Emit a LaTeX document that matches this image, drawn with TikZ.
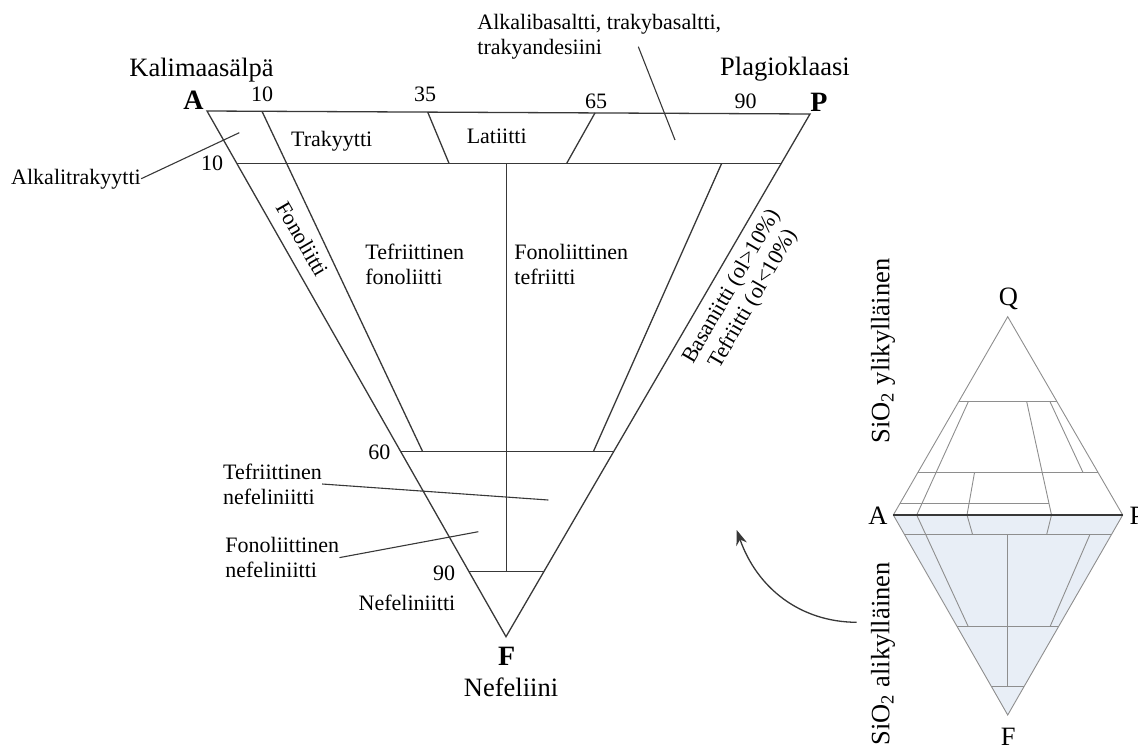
\documentclass[tikz,border=0pt]{standalone}
\usepackage{fontspec}
\setmainfont{Liberation Serif}
\usetikzlibrary{arrows.meta}
\definecolor{qapfline}{HTML}{383838}
\definecolor{diamgray}{HTML}{8E8E8E}
\definecolor{undersat}{HTML}{E8EEF6}

\tikzset{
  fieldlbl/.style={font=\fontsize{11}{12.5}\selectfont, inner sep=0pt},
  endlbl/.style={font=\fontsize{13.25}{15}\selectfont, inner sep=0pt},
  cornerlbl/.style={font=\fontsize{14}{16}\selectfont\bfseries, inner sep=0pt},
  mainline/.style={draw=qapfline, line width=0.65pt},
  minorline/.style={draw=diamgray, line width=0.45pt},
  leader/.style={draw=qapfline, line width=0.55pt}
}

\begin{document}
\begin{tikzpicture}[x=0.5pt, y=-0.5pt]
  \useasboundingbox (0,0) rectangle (1138,744);

  % main triangle A-P-F
  \coordinate (A) at (207,111);
  \coordinate (P) at (810,114);
  \coordinate (F) at (506,636.7);
  \draw[mainline] (A) -- (P) -- (F) -- cycle;
  \draw[mainline] (236.7,163.3) -- (781.3,163.3);
  \draw[mainline] (400.8,451.7) -- (613.6,451.7);
  \draw[mainline] (469.0,571.7) -- (543.8,571.7);
  \draw[mainline] (262,111.3) -- (422.7,451.7);
  \draw[mainline] (427.7,112.1) -- (449,163.3);
  \draw[mainline] (595,112.9) -- (566.7,163.3);
  \draw[mainline] (721.7,163.3) -- (593.3,451.7);
  \draw[mainline] (506.5,163.3) -- (506.5,571.7);

  % corners
  \node[endlbl, anchor=base] (kali) at (201.5,76) {Kalimaasälpä};
  \node[endlbl, anchor=base] (plag) at (785,75) {Plagioklaasi};
  \node[cornerlbl, anchor=base] (Albl) at (193.5,109.5) {A};
  \node[cornerlbl, anchor=base] (Plbl) at (819,111.7) {P};
  \node[cornerlbl, anchor=base] (Flbl) at (506.7,665) {F};
  \node[endlbl, anchor=base] (nefel) at (511,696.7) {Nefeliini};

  % scale values
  \node[fieldlbl, anchor=base] (top10) at (262,101.7) {10};
  \node[fieldlbl, anchor=base] (top35) at (425,101.7) {35};
  \node[fieldlbl, anchor=base] (top65) at (596,108.3) {65};
  \node[fieldlbl, anchor=base] (top90) at (745.5,108.3) {90};
  \node[fieldlbl, anchor=base] (side10) at (212,170) {10};
  \node[fieldlbl, anchor=base] (side60) at (379.3,459) {60};
  \node[fieldlbl, anchor=base] (side90) at (444,580) {90};

  % fields
  \node[fieldlbl, anchor=base] (trak) at (331.7,146.7) {Trakyytti};
  \node[fieldlbl, anchor=base] (lat) at (496.7,143.3) {Latiitti};
  \node[fieldlbl, rotate=-60] (fono) at (302.5,239) {Fonoliitti};
  \node[fieldlbl, align=left, anchor=west] (tefono) at (365,264) {Tefriittinen\\fonoliitti};
  \node[fieldlbl, align=left, anchor=west] (fontef) at (514,264) {Fonoliittinen\\tefriitti};
  \node[fieldlbl, rotate=60, align=center] (basan) at (743,293)
    {Basaniitti (ol>10\%)\\Tefriitti (ol<10\%)};
  \node[fieldlbl, anchor=base] (nefnii) at (407,610.7) {Nefeliniitti};

  % fields with leaders
  \node[fieldlbl, anchor=base] (alktr) at (76,184) {Alkalitrakyytti};
  \coordinate (alktrin) at (239.3,132.7);
  \draw[leader] (alktr.east) -- (alktrin);
  \node[fieldlbl, align=left, anchor=west] (albas) at (477,37)
    {Alkalibasaltti, trakybasaltti,\\trakyandesiini};
  \coordinate (albasout) at (638.3,46.7);
  \coordinate (albasin) at (675,140);
  \draw[leader] (albasout) -- (albasin);
  \node[fieldlbl, align=left, anchor=west] (tefnef) at (222.7,484) {Tefriittinen\\nefeliniitti};
  \coordinate (tefnefin) at (548.3,500);
  \draw[leader] (tefnef.east) -- (tefnefin);
  \node[fieldlbl, align=left, anchor=west] (fonnef) at (225,557.6) {Fonoliittinen\\nefeliniitti};
  \coordinate (fonnefin) at (478.3,531.7);
  \draw[leader] (fonnef.east) -- (fonnefin);

  % small QAPF diamond
  \coordinate (Q) at (1007.7,316.7);
  \coordinate (sA) at (893.3,515);
  \coordinate (sP) at (1122.7,515);
  \coordinate (sF) at (1007.7,715);
  \fill[undersat] (sA) -- (sP) -- (sF) -- cycle;
  \draw[minorline] (sA) -- (Q) -- (sP) -- (sF) -- cycle;
  \draw[minorline] (958.7,401.7) -- (1056.9,401.7);
  \draw[minorline] (917.8,472.5) -- (1097.9,472.5);
  \draw[minorline] (899.9,503.5) -- (1048.9,503.5);
  \draw[minorline] (968.3,401.7) -- (916.7,515) -- (968.3,626.7);
  \draw[minorline] (1026.7,401.7) -- (1051.5,515) -- (1046.7,534.3);
  \draw[minorline] (1050,401.7) -- (1083,472.5);
  \draw[minorline] (974.5,472.5) -- (967,515) -- (972.5,534.3);
  \draw[minorline] (904.3,534.3) -- (1111.6,534.3);
  \draw[minorline] (957.2,626.7) -- (1058.5,626.7);
  \draw[minorline] (991.5,686.7) -- (1024,686.7);
  \draw[minorline] (1090,534.3) -- (1050,626.7);
  \draw[minorline] (1007.7,534.3) -- (1007.7,686.7);
  \draw[qapfline, line width=0.6pt] (sA) -- (sP);

  \node[endlbl, anchor=base] (sQlbl) at (1008.3,305) {Q};
  \node[endlbl, anchor=base] (sAlbl) at (878,524.3) {A};
  \node[endlbl, anchor=base] (sPlbl) at (1137,524.3) {P};
  \node[endlbl, anchor=base] (sFlbl) at (1008.3,745) {F};
  \node[endlbl, rotate=90] (oversat) at (883,351) {SiO\textsubscript{2} ylikylläinen};
  \node[endlbl, rotate=90] (undsat) at (883,654) {SiO\textsubscript{2} alikylläinen};

  % pointer to the enlarged triangle
  \coordinate (arrfrom) at (856.7,622.3);
  \coordinate (arrto) at (736.7,530);
  \draw[qapfline, line width=0.65pt, -{Stealth[length=7.5pt, width=5.5pt]}]
    (arrfrom) .. controls (800,622) and (757,588) .. (arrto);
\end{tikzpicture}
\end{document}
